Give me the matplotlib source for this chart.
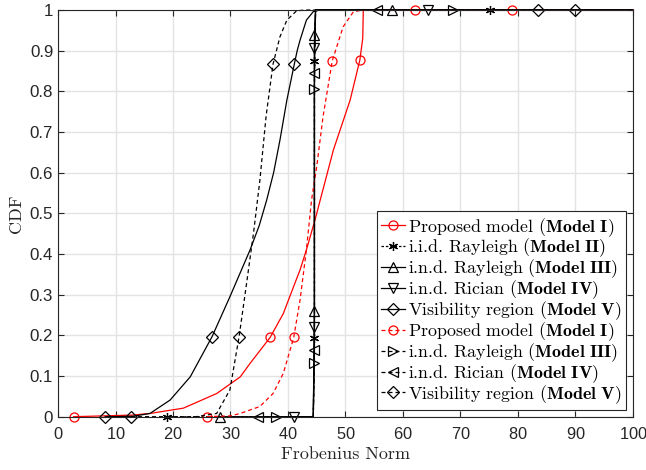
import numpy as np
import matplotlib
matplotlib.use('Agg')
import matplotlib.pyplot as plt

# --- data ---
# Model I, proposed (solid red)
x_m1 = [2.7, 13.0, 16.0, 21.8, 27.6, 31.7, 33.4, 36.9, 39.2, 40.3, 42.1, 43.2, 44.7, 47.9, 50.8, 52.5, 53.0, 53.1, 62.1, 78.9, 100]
y_m1 = [0, 0.004, 0.008, 0.021, 0.057, 0.098, 0.131, 0.195, 0.254, 0.295, 0.361, 0.41, 0.484, 0.656, 0.778, 0.877, 0.93, 1, 1, 1, 1]
# Model II, i.i.d. Rayleigh
x_m2 = [18.9, 44.4, 44.6, 44.6, 44.8, 75.1, 100]
y_m2 = [0, 0, 0.193, 0.875, 1, 1, 1]
# Model III, i.n.d. Rayleigh
x_m3 = [28.2, 44.4, 44.6, 44.6, 44.8, 58.1, 100]
y_m3 = [0, 0, 0.26, 0.938, 1, 1, 1]
# Model IV, i.n.d. Rician
x_m4 = [41.0, 44.4, 44.6, 44.6, 44.8, 64.4, 100]
y_m4 = [0, 0, 0.221, 0.906, 1, 1, 1]
# Model V, visibility region
x_m5 = [8.2, 13.0, 16.0, 19.5, 23.0, 26.8, 29.9, 33.4, 35.0, 36.3, 37.5, 38.6, 39.8, 41.1, 41.6, 42.1, 43.2, 44.4, 45.5, 90.0, 100]
y_m5 = [0, 0.001, 0.008, 0.041, 0.098, 0.197, 0.295, 0.41, 0.47, 0.533, 0.6, 0.68, 0.778, 0.867, 0.9, 0.926, 0.975, 0.996, 1, 1, 1]
# second set (dashed)
x_m1b = [25.9, 30.0, 31.7, 35.1, 37.4, 39.2, 41.0, 42.1, 43.2, 44.1, 45.0, 46.1, 47.7, 49.6, 51.4, 53.0, 62.1, 100]
y_m1b = [0, 0.002, 0.008, 0.025, 0.057, 0.107, 0.195, 0.287, 0.41, 0.533, 0.615, 0.738, 0.875, 0.959, 0.996, 1, 1, 1]
x_m3b = [38.0, 44.4, 44.6, 44.6, 44.8, 68.7, 100]
y_m3b = [0, 0, 0.131, 0.807, 1, 1, 1]
x_m4b = [34.7, 44.4, 44.6, 44.6, 44.8, 55.5, 100]
y_m4b = [0, 0, 0.164, 0.844, 1, 1, 1]
x_m5b = [12.7, 24.0, 27.6, 29.9, 31.5, 32.8, 34.0, 35.1, 36.2, 37.4, 38.6, 39.8, 41.5, 43.0, 83.4, 100]
y_m5b = [0, 0.0, 0.008, 0.066, 0.197, 0.328, 0.451, 0.58, 0.74, 0.867, 0.934, 0.975, 0.998, 1, 1, 1]

labels = [r'Proposed model ($\mathbf{Model\ I}$)',
          r'i.i.d. Rayleigh ($\mathbf{Model\ II}$)',
          r'i.n.d. Rayleigh ($\mathbf{Model\ III}$)',
          r'i.n.d. Rician ($\mathbf{Model\ IV}$)',
          r'Visibility region ($\mathbf{Model\ V}$)',
          r'Proposed model ($\mathbf{Model\ I}$)',
          r'i.n.d. Rayleigh ($\mathbf{Model\ III}$)',
          r'i.n.d. Rician ($\mathbf{Model\ IV}$)',
          r'Visibility region ($\mathbf{Model\ V}$)']

xticks = [0, 10, 20, 30, 40, 50, 60, 70, 80, 90, 100]
yticks = [0, 0.1, 0.2, 0.3, 0.4, 0.5, 0.6, 0.7, 0.8, 0.9, 1]
ytick_labels = ['0', '0.1', '0.2', '0.3', '0.4', '0.5', '0.6', '0.7', '0.8', '0.9', '1']

plt.rcParams['mathtext.fontset'] = 'cm'
plt.rcParams['axes.formatter.use_mathtext'] = True

fig = plt.figure(figsize=(6.46, 4.70), dpi=100)
ax = fig.add_axes([0.0898, 0.1134, 0.890, 0.8653])

dash = (0, (3.2, 2.4))
fine = (0, (2, 1.5))
curves = [
    (x_m1, y_m1, 'red', '-', 'o', [0, 7, 15, 19]),
    (x_m2, y_m2, 'k', fine, (6, 2, 0), [0, 2, 3, 5]),
    (x_m3, y_m3, 'k', '-', '^', [0, 2, 3, 5]),
    (x_m4, y_m4, 'k', '-', 'v', [0, 2, 3, 5]),
    (x_m5, y_m5, 'k', '-', 'D', [0, 5, 13, 19]),
    (x_m1b, y_m1b, 'red', dash, 'o', [0, 6, 12, 16]),
    (x_m3b, y_m3b, 'k', dash, '>', [0, 2, 3, 5]),
    (x_m4b, y_m4b, 'k', dash, '<', [0, 2, 3, 5]),
    (x_m5b, y_m5b, 'k', dash, 'D', [0, 4, 9, 14]),
]
sizes = {'D': 6.2, 'o': 6.5, (6, 2, 0): 6.5}
for (xs, ys, c, ls, mk, me), lab in zip(curves, labels):
    ms = sizes.get(mk, 7.0)
    ax.plot(xs, ys, color=c, linestyle=ls, linewidth=0.9, marker=mk,
            markersize=ms, markerfacecolor='none', markeredgecolor=c,
            markeredgewidth=0.9, markevery=me, label=lab, clip_on=False)

ax.set_xlim(0, 100)
ax.set_ylim(0, 1)
ax.set_xticks(xticks)
ax.set_yticks(yticks)
ax.set_yticklabels(ytick_labels)
ax.grid(True, color='#e3e3e3', linewidth=1.0)
ax.set_axisbelow(True)
ax.tick_params(direction='in', top=True, right=True, length=4, width=0.8,
               colors='#262626', labelsize=12.2)
ax.tick_params(axis='x', pad=7, labelsize=11.8)
for lab in ax.get_xticklabels() + ax.get_yticklabels():
    lab.set_family('Liberation Sans')
for sp in ax.spines.values():
    sp.set_color('#262626')
    sp.set_linewidth(0.8)

ax.set_xlabel('Frobenius Norm', family='cmr10', fontsize=13, color='#262626', labelpad=3)
ax.set_ylabel('CDF', family='cmr10', fontsize=13, color='#262626', labelpad=4)

leg = ax.legend(loc='lower right', bbox_to_anchor=(0.988, 0.0165), borderaxespad=0,
                prop={'family': 'cmr10', 'size': 12.9}, fancybox=False,
                edgecolor='#262626', framealpha=1, handlelength=1.3,
                handletextpad=0.2, labelspacing=-0.1, borderpad=0.25)
leg.get_frame().set_linewidth(0.8)

fig.savefig('out.png', dpi=100)
